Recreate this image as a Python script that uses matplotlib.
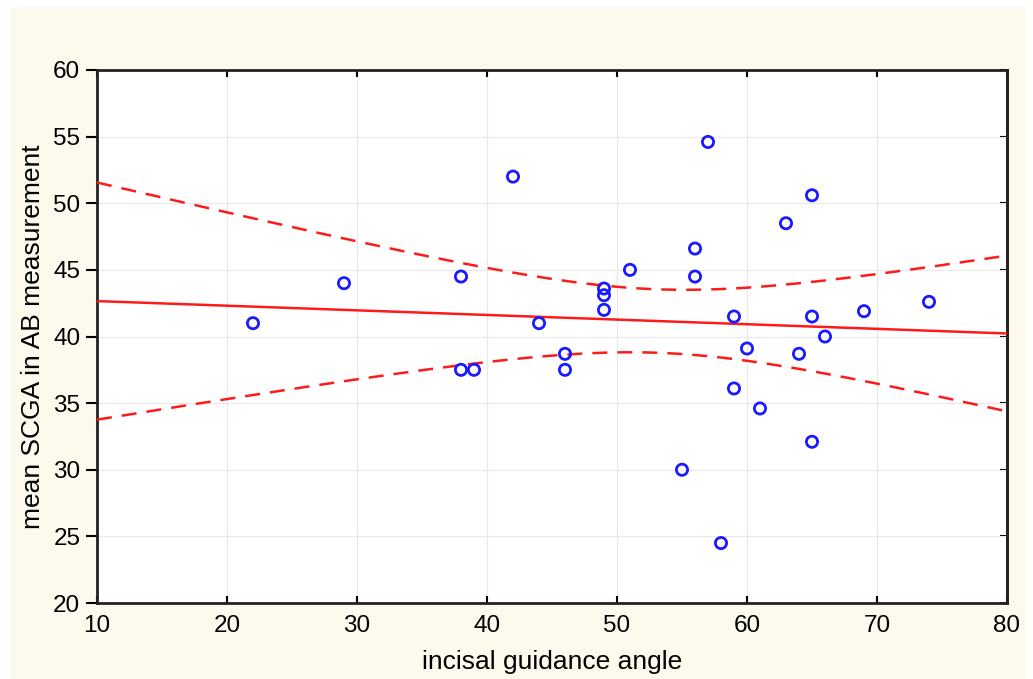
import matplotlib.pyplot as plt
import numpy as np
from matplotlib.patches import Rectangle

# Data
angle = [22, 29, 38, 38, 39, 42, 44, 46, 46, 49, 49, 49, 51, 55, 56,
         56, 57, 58, 59, 59, 60, 61, 63, 64, 65, 65, 65, 66, 69, 74]
scga = [41.0, 44.0, 44.5, 37.5, 37.5, 52.0, 41.0, 38.7, 37.5, 43.6, 43.1, 42.0, 45.0, 30.0, 46.6,
        44.5, 54.6, 24.5, 41.5, 36.1, 39.1, 34.6, 48.5, 38.7, 50.6, 41.5, 32.1, 40.0, 41.9, 42.6]
xticks = [10, 20, 30, 40, 50, 60, 70, 80]
yticks = [20, 25, 30, 35, 40, 45, 50, 55, 60]

plt.rcParams['font.family'] = ['Liberation Sans', 'DejaVu Sans']

x = np.array(angle, dtype=float)
y = np.array(scga, dtype=float)
n = len(x)

# Linear fit and 95% confidence band of the mean
b, a = np.polyfit(x, y, 1)
resid = y - (a + b * x)
s = np.sqrt(np.sum(resid ** 2) / (n - 2))
sxx = np.sum((x - x.mean()) ** 2)
t = 2.048  # t(0.975, 28)
xx = np.linspace(10, 80, 200)
yy = a + b * xx
half = t * s * np.sqrt(1 / n + (xx - x.mean()) ** 2 / sxx)

fig = plt.figure(figsize=(10.33, 6.79), dpi=100)
fig.patch.set_facecolor('white')
bg = Rectangle((11 / 1033, 0), 1015 / 1033, 672 / 679, transform=fig.transFigure,
               facecolor='#fdf9ed', edgecolor='none', zorder=-10)
fig.add_artist(bg)

ax = fig.add_axes([97 / 1033, 1 - 603 / 679, 910 / 1033, 533 / 679])
ax.set_zorder(1)
ax.set_facecolor('white')

ax.plot(xx, yy, color='#ff1a1a', lw=1.8, zorder=3)
ax.plot(xx, yy + half, color='#ff1a1a', lw=1.8, ls=(0, (6, 4)), zorder=3)
ax.plot(xx, yy - half, color='#ff1a1a', lw=1.8, ls=(0, (6, 4)), zorder=3)
ax.scatter(x, y, s=65, facecolors='none', edgecolors='#1a1aff', linewidths=2, zorder=4)

ax.set_xlim(10, 80)
ax.set_ylim(20, 60)
ax.set_xticks(xticks)
ax.set_yticks(yticks)
ax.grid(True, color='#e8e8e8', lw=0.8)
ax.set_axisbelow(True)

for sp in ax.spines.values():
    sp.set_linewidth(2)
    sp.set_color('#222222')

ax.tick_params(axis='x', direction='in', top=True, length=5, width=1.5,
               labelsize=17.5, pad=9)
ax.tick_params(axis='y', direction='out', length=8, width=1.5,
               labelsize=17.5, pad=4)

# right side ticks point inward, no labels
right = ax.secondary_yaxis('right')
right.set_yticks(yticks)
right.tick_params(direction='in', length=5, width=1.5, labelright=False)
right.spines['right'].set_linewidth(2)
right.spines['right'].set_color('#222222')

ax.set_xlabel('incisal guidance angle', fontsize=19, labelpad=9)
ax.set_ylabel('mean SCGA in AB measurement', fontsize=19, labelpad=6)

fig.savefig('out.png', dpi=100, facecolor=fig.get_facecolor())
